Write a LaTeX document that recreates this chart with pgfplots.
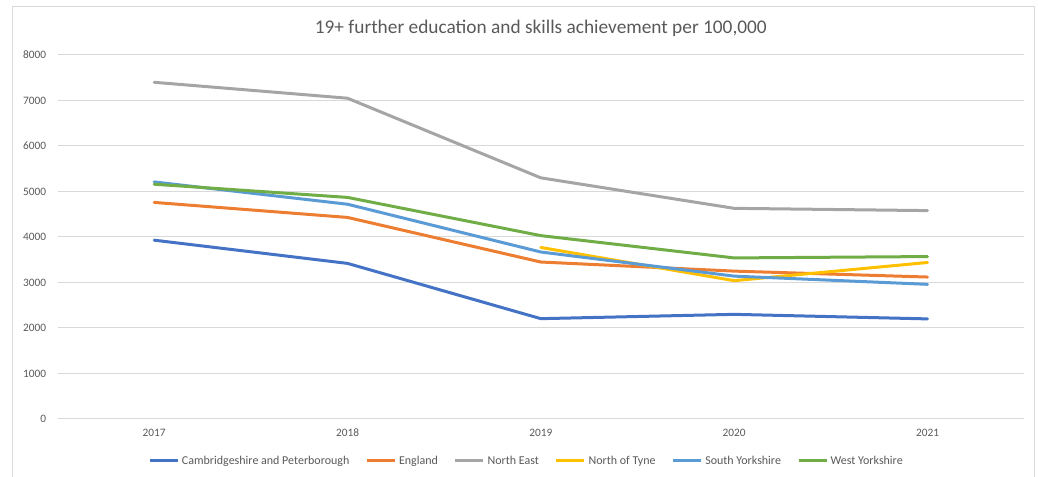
\documentclass[border=0pt]{standalone}
\usepackage{pgfplots}
\pgfplotsset{compat=1.18}
\usepackage{fontspec}
\setmainfont{Carlito}

\definecolor{cambs}{HTML}{4472C4}
\definecolor{england}{HTML}{ED7D31}
\definecolor{neast}{HTML}{A5A5A5}
\definecolor{ntyne}{HTML}{FFC000}
\definecolor{syorks}{HTML}{5B9BD5}
\definecolor{wyorks}{HTML}{70AD47}
\definecolor{gridgrey}{HTML}{D9D9D9}
\definecolor{txtgrey}{HTML}{595959}

\begin{document}
\begin{tikzpicture}
% picture frame: 1038x477 px at 0.75pt/px, axis box origin at px (57.5,419)
\useasboundingbox (-43.125pt,-43.5pt) rectangle (735.375pt,314.25pt);
\draw[gridgrey, line width=0.75pt] (-33.4pt,-45pt) -- (-33.4pt,309pt) -- (733.1pt,309pt) -- (733.1pt,-45pt);

\begin{axis}[
    at={(0pt,0pt)}, anchor=south west,
    scale only axis,
    width=725pt, height=273pt,
    xmin=2016.5, xmax=2021.5,
    ymin=0, ymax=8000,
    xtick={2017,2018,2019,2020,2021},
    ytick={0,1000,...,8000},
    scaled y ticks=false,
    axis line style={draw=none},
    major tick length=0pt,
    ymajorgrids,
    grid style={gridgrey, line width=0.75pt},
    tick label style={font=\fontsize{8.5}{10}\selectfont, text=txtgrey,
        /pgf/number format/1000 sep={}, /pgf/number format/assume math mode=true},
    yticklabel style={xshift=-5pt},
    xticklabel style={yshift=-4pt},
    title={19+ further education and skills achievement per 100,000},
    every axis title/.style={font=\fontsize{14.5}{17}\selectfont, text=txtgrey,
        at={(0.5,1)}, anchor=center, yshift=20.25pt},
    legend columns=-1,
    legend style={draw=none, fill=none, at={(352pt,-31.5pt)}, anchor=center,
        font=\fontsize{9}{11}\selectfont, text=txtgrey,
        /tikz/every even column/.append style={column sep=10pt},
        /tikz/every odd column/.append style={inner sep=0pt}},
    legend image code/.code={\draw[#1, line cap=butt] (0pt,0pt) -- (21pt,0pt);},
    every axis plot/.append style={line width=2.25pt, line join=round, line cap=round},
]
\addplot[cambs] coordinates {(2017,3930) (2018,3420) (2019,2205) (2020,2300) (2021,2200)};
\addlegendentry{Cambridgeshire and Peterborough}
\addplot[england] coordinates {(2017,4760) (2018,4430) (2019,3450) (2020,3250) (2021,3120)};
\addlegendentry{England}
\addplot[neast] coordinates {(2017,7400) (2018,7050) (2019,5300) (2020,4630) (2021,4580)};
\addlegendentry{North East}
\addplot[ntyne] coordinates {(2019,3770) (2020,3040) (2021,3440)};
\addlegendentry{North of Tyne}
\addplot[syorks] coordinates {(2017,5210) (2018,4720) (2019,3670) (2020,3140) (2021,2960)};
\addlegendentry{South Yorkshire}
\addplot[wyorks] coordinates {(2017,5160) (2018,4870) (2019,4030) (2020,3540) (2021,3570)};
\addlegendentry{West Yorkshire}
\end{axis}
\end{tikzpicture}
\end{document}
